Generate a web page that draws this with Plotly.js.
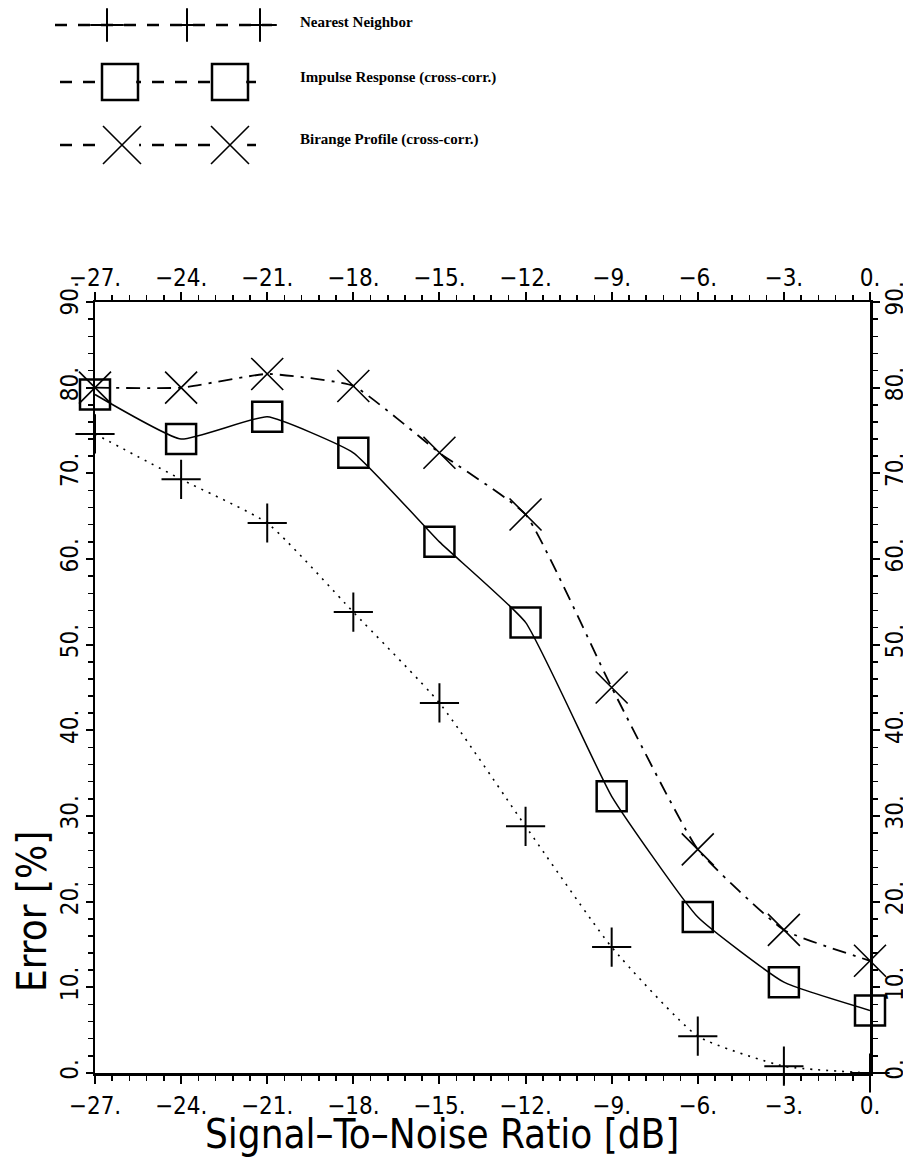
<!DOCTYPE html>
<html>
<head>
<meta charset="utf-8">
<script src="https://cdn.plot.ly/plotly-3.0.1.min.js"></script>
<style>html,body{margin:0;padding:0;background:#fff;}#chart{width:903px;height:1160px;}</style>
</head>
<body>
<div id="chart"></div>
<script>
// ---------------- data ----------------
const snr = [-27, -24, -21, -18, -15, -12, -9, -6, -3, 0];
const nearestNeighbor = [74.6, 69.3, 64.2, 53.8, 43.2, 28.8, 14.7, 4.3, 0.8, 0];
const impulseResponse = [79.2, 74.0, 76.6, 72.4, 62.0, 52.6, 32.3, 18.2, 10.6, 7.3];
const birangeProfile  = [80.0, 80.0, 81.6, 80.2, 72.4, 65.2, 45.0, 26.1, 16.7, 13.1];
const seriesNames = ['Nearest Neighbor', 'Impulse Response (cross-corr.)', 'Birange Profile (cross-corr.)'];
const xTickVals = [-27, -24, -21, -18, -15, -12, -9, -6, -3, 0];
const xTickText = ['\u221227.', '\u221224.', '\u221221.', '\u221218.', '\u221215.', '\u221212.', '\u22129.', '\u22126.', '\u22123.', '0.'];
const yTickVals = [0, 10, 20, 30, 40, 50, 60, 70, 80, 90];
const yTickText = ['0.', '10.', '20.', '30.', '40.', '50.', '60.', '70.', '80.', '90.'];
const xTitle = 'Signal\u2013To\u2013Noise Ratio [dB]';
const yTitle = 'Error [%]';

// ---------------- geometry (pixels) ----------------
const W = 903, H = 1160;
const mL = 20, mR = 33, mT = 10, mB = 87;
const plotW = W - mL - mR, plotH = H - mT - mB;
const axLeftPx = 95, axTopPx = 302;
const px2paperX = p => (p - mL) / plotW;
const py2paperY = p => (H - mB - p) / plotH;
const mainYTop = py2paperY(axTopPx);
const legDomainBottom = 0.76;
const legBottomPx = H - mB - legDomainBottom * plotH;

const tickFont = {family: '"Liberation Sans Narrow", "DejaVu Sans Condensed", "Liberation Sans", sans-serif', size: 24, color: '#000'};
const titleFont = {family: '"Liberation Sans Narrow", "DejaVu Sans Condensed", "Liberation Sans", sans-serif', size: 40, color: '#000'};
const legendFont = {family: '"Liberation Serif", "DejaVu Serif", serif', size: 15, color: '#000'};

const xAxisCommon = {
  range: [-27, 0], tickmode: 'array', tickvals: xTickVals, ticktext: xTickText,
  ticks: 'outside', ticklen: 8, tickwidth: 2, tickcolor: '#000',
  minor: {tickmode: 'linear', tick0: -27, dtick: 0.6, ticks: 'outside', ticklen: 5, tickwidth: 1.5, tickcolor: '#000', showgrid: false},
  showline: true, linewidth: 2.5, linecolor: '#000', showgrid: false, zeroline: false,
  tickfont: tickFont, tickangle: 0, fixedrange: true
};
const yAxisCommon = {
  range: [0, 90], tickmode: 'array', tickvals: yTickVals, ticktext: yTickText,
  ticks: 'outside', ticklen: 7, tickwidth: 2, tickcolor: '#000',
  minor: {tickmode: 'linear', tick0: 0, dtick: 2, ticks: 'outside', ticklen: 5, tickwidth: 1.5, tickcolor: '#000', showgrid: false},
  showline: true, linewidth: 2.5, linecolor: '#000', showgrid: false, zeroline: false,
  tickfont: tickFont, tickangle: -90, fixedrange: true
};

const traces = [
  {
    x: snr, y: nearestNeighbor, name: seriesNames[0], xaxis: 'x2', yaxis: 'y2',
    mode: 'lines+markers', cliponaxis: false,
    line: {color: '#000', width: 1.6, dash: '2px,6px', shape: 'spline', smoothing: 0.5},
    marker: {symbol: 'cross-thin-open', size: 28, color: '#000', line: {color: '#000', width: 2}}
  },
  {
    x: snr, y: impulseResponse, name: seriesNames[1], xaxis: 'x', yaxis: 'y',
    mode: 'lines+markers', cliponaxis: false,
    line: {color: '#000', width: 1.5, shape: 'spline', smoothing: 0.4},
    marker: {symbol: 'square-open', size: 30, color: '#000', line: {color: '#000', width: 2.5}}
  },
  {
    x: snr, y: birangeProfile, name: seriesNames[2], xaxis: 'x', yaxis: 'y',
    mode: 'lines+markers', cliponaxis: false,
    line: {color: '#000', width: 1.8, dash: '14px,7px,3px,7px', shape: 'spline', smoothing: 0.4},
    marker: {symbol: 'x-thin-open', size: 32, color: '#000', line: {color: '#000', width: 1.6}}
  }
];

// ---------------- hand-drawn style legend (top) ----------------
const legendRows = [
  {y: 25, textY: 22, x0: 55, x1: 272, mk: [107, 187, 260], symbol: 'cross-thin-open', size: 24, mw: 2, mask: false},
  {y: 82, textY: 77, x0: 60, x1: 267, mk: [120, 230], symbol: 'square-open', size: 36, mw: 2.5, mask: true},
  {y: 145, textY: 139, x0: 60, x1: 267, mk: [122, 230], symbol: 'x-thin-open', size: 38, mw: 1.6, mask: true}
];
const annotations = [];
legendRows.forEach((r, i) => {
  traces.push({
    x: [r.x0, r.x1], y: [r.y, r.y], xaxis: 'x3', yaxis: 'y3', mode: 'lines', showlegend: false, hoverinfo: 'skip',
    line: {color: '#000', width: 2.5, dash: '12px,11px'}
  });
  if (r.mask) {
    traces.push({
      x: r.mk, y: r.mk.map(() => r.y), xaxis: 'x3', yaxis: 'y3', mode: 'markers', showlegend: false, hoverinfo: 'skip', cliponaxis: false,
      marker: {symbol: 'square', size: r.size * 0.9, color: '#fff', line: {width: 0}}
    });
  }
  traces.push({
    x: r.mk, y: r.mk.map(() => r.y), xaxis: 'x3', yaxis: 'y3', mode: 'markers', showlegend: false, hoverinfo: 'skip', cliponaxis: false,
    marker: {symbol: r.symbol, size: r.size, color: '#000', line: {color: '#000', width: r.mw}}
  });
  annotations.push({
    xref: 'x3', yref: 'y3', x: 298, y: r.textY, xanchor: 'left', yanchor: 'middle',
    text: '<b>' + seriesNames[i] + '</b>', showarrow: false, font: legendFont
  });
});

annotations.push({
  xref: 'paper', yref: 'paper', x: px2paperX(442), y: py2paperY(1134), xanchor: 'center', yanchor: 'middle',
  text: xTitle, showarrow: false, font: titleFont
});
annotations.push({
  xref: 'paper', yref: 'paper', x: px2paperX(32), y: py2paperY(912), xanchor: 'center', yanchor: 'middle',
  text: yTitle, showarrow: false, textangle: -90, font: titleFont
});

const layout = {
  width: W, height: H,
  margin: {l: mL, r: mR, t: mT, b: mB, pad: 0},
  paper_bgcolor: '#fff', plot_bgcolor: 'rgba(0,0,0,0)',
  showlegend: false,
  xaxis: Object.assign({}, xAxisCommon, {domain: [px2paperX(axLeftPx), 1], anchor: 'y', side: 'bottom', ticklabelstandoff: 2}),
  yaxis: Object.assign({}, yAxisCommon, {domain: [0, mainYTop], anchor: 'x', side: 'left', ticklabelstandoff: -2}),
  xaxis2: Object.assign({}, xAxisCommon, {overlaying: 'x', matches: 'x', anchor: 'y2', side: 'top', ticklabelstandoff: -4}),
  yaxis2: Object.assign({}, yAxisCommon, {overlaying: 'y', matches: 'y', anchor: 'x2', side: 'right', ticklabelstandoff: -5}),
  xaxis3: {domain: [0, 1], range: [mL, W - mR], anchor: 'y3', visible: false, fixedrange: true},
  yaxis3: {domain: [legDomainBottom, 1], range: [legBottomPx, mT], anchor: 'x3', visible: false, fixedrange: true},
  annotations: annotations
};

Plotly.newPlot('chart', traces, layout, {staticPlot: true, displayModeBar: false});
</script>
</body>
</html>
